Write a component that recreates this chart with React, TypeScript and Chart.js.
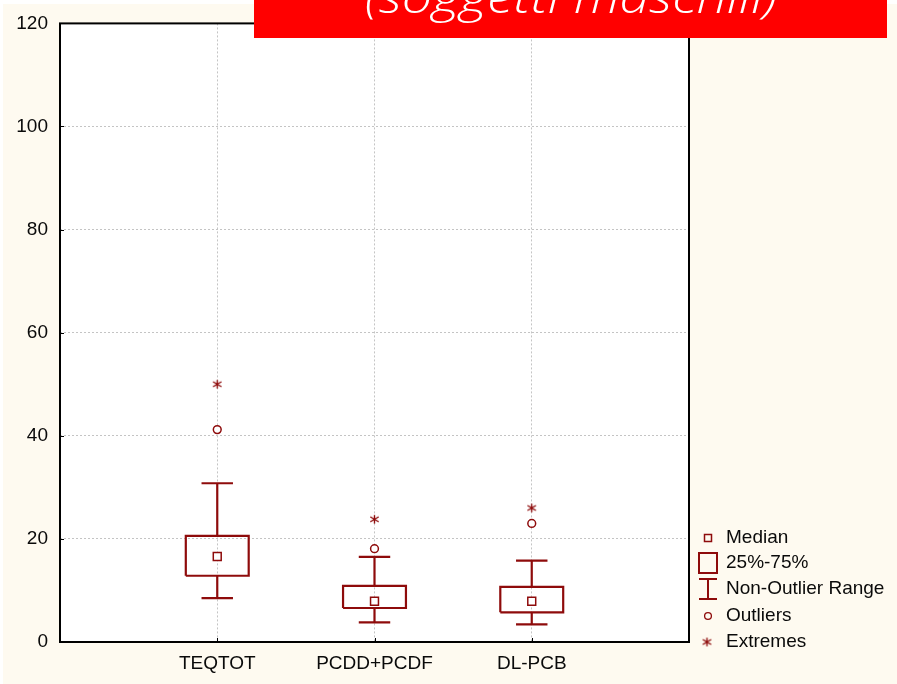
import React, { useEffect, useRef } from 'react';
import { Chart, registerables } from 'chart.js';

Chart.register(...registerables);

// ---- data ----
const categories = ['TEQTOT', 'PCDD+PCDF', 'DL-PCB'];
const whiskerLow = [8.5, 3.8, 3.4];
const q1 = [12.85, 6.6, 5.75];
const medians = [16.6, 7.9, 7.9];
const q3 = [20.6, 10.9, 10.7];
const whiskerHigh = [30.8, 16.5, 15.8];
const outliers = [41.2, 18.1, 23.0];
const extremes = [50.0, 23.8, 26.0];
const yTicks = [0, 20, 40, 60, 80, 100, 120];
const legendLabels = ['Median', '25%-75%', 'Non-Outlier Range', 'Outliers', 'Extremes'];
const titleText = '(soggetti maschili)';

// ---- styles ----
const RED = '#8E0B0B';
const CREAM = '#FEFAF0';
const FONT = '"Liberation Sans", Arial, sans-serif';
const BOX_HALF = 0.2;
const CAP_HALF = 0.1;

function makeAsterisk(): HTMLCanvasElement {
  const c = document.createElement('canvas');
  c.width = 11;
  c.height = 11;
  const g = c.getContext('2d')!;
  g.strokeStyle = RED;
  g.lineWidth = 1.4;
  g.beginPath();
  g.moveTo(5.5, 1.2);
  g.lineTo(5.5, 9.8);
  g.moveTo(1.3, 3.0);
  g.lineTo(9.7, 8.0);
  g.moveTo(1.3, 8.0);
  g.lineTo(9.7, 3.0);
  g.stroke();
  return c;
}

export default function App() {
  const ref = useRef<HTMLCanvasElement>(null);

  useEffect(() => {
    if (!ref.current) return;
    const asterisk = makeAsterisk();

    const datasets: any[] = [];
    const lineDs = (pts: { x: number; y: number }[]) => ({
      type: 'scatter',
      data: pts,
      showLine: true,
      borderColor: RED,
      borderWidth: 2.2,
      pointRadius: 0,
      fill: false,
      tension: 0,
      borderJoinStyle: 'miter',
      borderCapStyle: 'butt',
    });

    categories.forEach((_, i) => {
      const x = i + 1;
      // box 25%-75%
      datasets.push(
        lineDs([
          { x: x - BOX_HALF, y: q1[i] },
          { x: x + BOX_HALF, y: q1[i] },
          { x: x + BOX_HALF, y: q3[i] },
          { x: x - BOX_HALF, y: q3[i] },
          { x: x - BOX_HALF, y: q1[i] },
        ])
      );
      // whiskers
      datasets.push(lineDs([{ x, y: q3[i] }, { x, y: whiskerHigh[i] }]));
      datasets.push(lineDs([{ x, y: q1[i] }, { x, y: whiskerLow[i] }]));
      datasets.push(lineDs([{ x: x - CAP_HALF, y: whiskerHigh[i] }, { x: x + CAP_HALF, y: whiskerHigh[i] }]));
      datasets.push(lineDs([{ x: x - CAP_HALF, y: whiskerLow[i] }, { x: x + CAP_HALF, y: whiskerLow[i] }]));
    });

    datasets.push({
      type: 'scatter',
      data: medians.map((m, i) => ({ x: i + 1, y: m })),
      pointStyle: 'rect',
      pointRadius: 5.6,
      borderColor: RED,
      borderWidth: 1.5,
      backgroundColor: '#ffffff',
    });
    datasets.push({
      type: 'scatter',
      data: outliers.map((m, i) => ({ x: i + 1, y: m })),
      pointStyle: 'circle',
      pointRadius: 3.9,
      borderColor: RED,
      borderWidth: 1.5,
      backgroundColor: '#ffffff',
    });
    datasets.push({
      type: 'scatter',
      data: extremes.map((m, i) => ({ x: i + 1, y: m })),
      pointStyle: asterisk,
      pointRadius: 5,
      borderColor: RED,
    });

    const decor = {
      id: 'decor',
      beforeDraw(chart: any) {
        const { ctx, width, height, chartArea: a } = chart;
        ctx.save();
        ctx.fillStyle = '#ffffff';
        ctx.fillRect(0, 0, width, height);
        ctx.fillStyle = CREAM;
        ctx.fillRect(3, 4, width - 3, height - 4);
        ctx.fillStyle = '#ffffff';
        ctx.fillRect(a.left, a.top, a.right - a.left, a.bottom - a.top);
        ctx.restore();
      },
      afterDraw(chart: any) {
        const { ctx, chartArea: a, scales } = chart;
        ctx.save();
        // frame
        ctx.strokeStyle = '#000';
        ctx.lineWidth = 2;
        ctx.strokeRect(a.left, a.top, a.right - a.left, a.bottom - a.top);
        // inside ticks
        ctx.lineWidth = 1;
        ctx.beginPath();
        yTicks.forEach((v) => {
          const y = Math.round(scales.y.getPixelForValue(v)) + 0.5;
          ctx.moveTo(a.left, y);
          ctx.lineTo(a.left + 4, y);
        });
        categories.forEach((_, i) => {
          const x = Math.round(scales.x.getPixelForValue(i + 1)) + 0.5;
          ctx.moveTo(x, a.bottom);
          ctx.lineTo(x, a.bottom - 4);
        });
        ctx.stroke();

        // legend
        const lx = 708;
        const ys = [538, 563, 589, 616, 642];
        ctx.strokeStyle = RED;
        ctx.lineWidth = 1.5;
        ctx.strokeRect(lx - 3.5, ys[0] - 3.5, 7, 7);
        ctx.lineWidth = 2;
        ctx.strokeRect(lx - 9, ys[1] - 10, 18, 20);
        ctx.beginPath();
        ctx.moveTo(lx, ys[2] - 10);
        ctx.lineTo(lx, ys[2] + 10);
        ctx.moveTo(lx - 9, ys[2] - 10);
        ctx.lineTo(lx + 9, ys[2] - 10);
        ctx.moveTo(lx - 9, ys[2] + 10);
        ctx.lineTo(lx + 9, ys[2] + 10);
        ctx.stroke();
        ctx.lineWidth = 1.3;
        ctx.beginPath();
        ctx.arc(lx, ys[3], 3.4, 0, Math.PI * 2);
        ctx.stroke();
        ctx.drawImage(asterisk, lx - 6.5, ys[4] - 5.5);
        ctx.fillStyle = '#0a0a0a';
        ctx.font = `19px ${FONT}`;
        ctx.textBaseline = 'middle';
        ctx.textAlign = 'left';
        legendLabels.forEach((t, i) => ctx.fillText(t, 726, ys[i]));

        // banner
        ctx.fillStyle = '#FF0000';
        ctx.fillRect(254, 0, 633, 38);
        ctx.beginPath();
        ctx.rect(254, 0, 633, 38);
        ctx.clip();
        ctx.fillStyle = '#ffffff';
        ctx.font = `italic 300 44px "Open Sans", "DejaVu Sans", sans-serif`;
        ctx.textBaseline = 'alphabetic';
        const w = ctx.measureText(titleText).width;
        ctx.translate(365, 13);
        ctx.scale(412 / w, 1);
        ctx.fillText(titleText, 0, 0);
        ctx.restore();
      },
    };

    const tickFont = { family: FONT, size: 19 };
    const chart = new Chart(ref.current, {
      type: 'scatter',
      data: { datasets },
      options: {
        responsive: false,
        animation: false,
        devicePixelRatio: 1,
        layout: { padding: { left: 0, top: 23, right: 208, bottom: 0 } },
        plugins: {
          legend: { display: false },
          tooltip: { enabled: false },
          title: { display: false },
        },
        scales: {
          x: {
            type: 'linear',
            min: 0,
            max: 4,
            afterBuildTicks: (s: any) => {
              s.ticks = categories.map((_, i) => ({ value: i + 1 }));
            },
            afterFit: (s: any) => {
              s.height = 42;
            },
            ticks: {
              callback: (v: any) => categories[Number(v) - 1] ?? '',
              color: '#0a0a0a',
              font: tickFont,
              padding: 10,
              maxRotation: 0,
              autoSkip: false,
            },
            grid: { color: '#c4c4c4', lineWidth: 1, drawTicks: false },
            border: { display: false, dash: [2, 2] },
          },
          y: {
            type: 'linear',
            min: 0,
            max: 120,
            afterBuildTicks: (s: any) => {
              s.ticks = yTicks.map((v) => ({ value: v }));
            },
            afterFit: (s: any) => {
              s.width = 60;
            },
            ticks: {
              color: '#0a0a0a',
              font: tickFont,
              padding: 12,
            },
            grid: { color: '#c4c4c4', lineWidth: 1, drawTicks: false },
            border: { display: false, dash: [2, 2] },
          },
        },
      } as any,
      plugins: [decor],
    });
    return () => chart.destroy();
  }, []);

  return (
    <div style={{ position: 'fixed', left: 0, top: 0, width: 897, height: 684 }}>
      <canvas ref={ref} width={897} height={684} style={{ display: 'block', width: 897, height: 684 }} />
    </div>
  );
}
